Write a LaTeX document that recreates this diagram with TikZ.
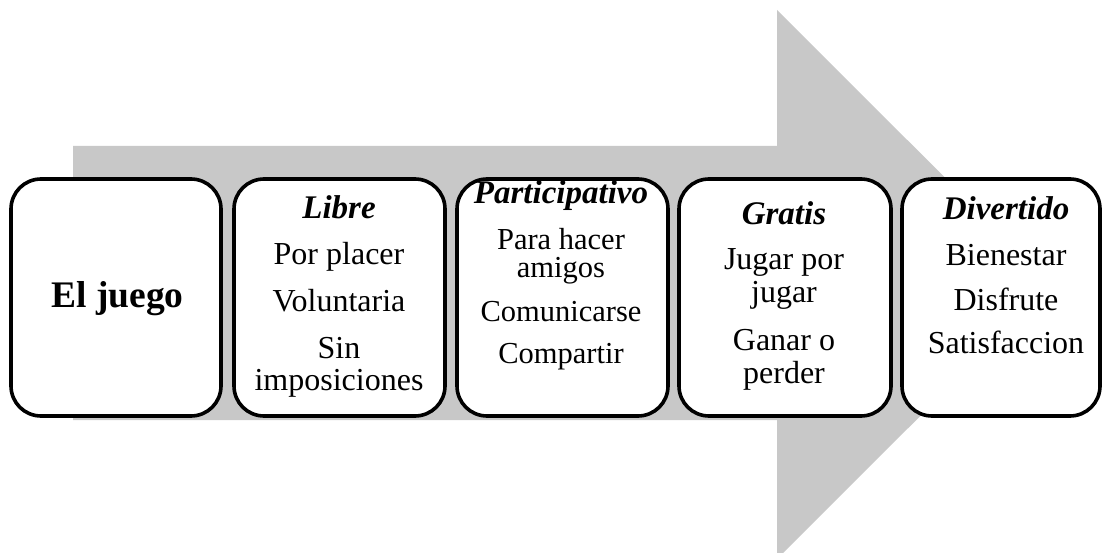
\documentclass[tikz,border=0pt]{standalone}
\usepackage{fontspec}
\setmainfont{Liberation Serif}
\definecolor{arrowgrey}{RGB}{200,200,200}
\tikzset{
  card/.style={draw=black, line width=3.6pt, fill=white, rounded corners=30pt,
    minimum height=237pt, inner sep=0pt},
  txt/.style={inner sep=0pt, anchor=base, font=\fontsize{32}{34}\selectfont},
  smalltxt/.style={inner sep=0pt, anchor=base, font=\fontsize{30.5}{32}\selectfont},
  head/.style={inner sep=0pt, anchor=base, font=\fontsize{33}{35}\selectfont\bfseries\itshape},
  title/.style={inner sep=0pt, anchor=base, font=\fontsize{37.5}{39}\selectfont\bfseries}
}
\begin{document}
\begin{tikzpicture}[x=1pt, y=-1pt]
\useasboundingbox (0,0) rectangle (1103,553);
% big grey arrow
\fill[arrowgrey] (73,146) -- (777,146) -- (777,10) -- (1052,284.5) -- (777,559)
  -- (777,420) -- (73,420) -- cycle;
% cards
\node[card, minimum width=210pt] (b1) at (116,297.5) {};
\node[card, minimum width=211pt] (b2) at (339.5,297.5) {};
\node[card, minimum width=211pt] (b3) at (562.5,297.5) {};
\node[card, minimum width=212pt] (b4) at (785,297.5) {};
\node[card, minimum width=198pt] (b5) at (1001,297.5) {};
% card 1
\node[title] (t1) at (117.5,308) {El juego};
% card 2
\node[head] (t2a) at (339,219) {Libre};
\node[txt] (t2b) at (339,265) {Por placer};
\node[txt] (t2c) at (339,312) {Voluntaria};
\node[txt] (t2d) at (339,358) {Sin};
\node[txt] (t2e) at (339,390) {imposiciones};
% card 3
\node[head] (t3a) at (561,204) {Participativo};
\node[smalltxt] (t3b) at (561,250) {Para hacer};
\node[smalltxt] (t3c) at (561,278) {amigos};
\node[smalltxt] (t3d) at (561,322) {Comunicarse};
\node[smalltxt] (t3e) at (561,363) {Compartir};
% card 4
\node[head] (t4a) at (784,225) {Gratis};
\node[txt] (t4b) at (784,270) {Jugar por};
\node[txt] (t4c) at (784,303) {jugar};
\node[txt] (t4d) at (784,350) {Ganar o};
\node[txt] (t4e) at (784,383) {perder};
% card 5
\node[head] (t5a) at (1006,220) {Divertido};
\node[txt] (t5b) at (1006,266) {Bienestar};
\node[txt] (t5c) at (1006,311) {Disfrute};
\node[txt] (t5d) at (1006,353) {Satisfaccion};
\end{tikzpicture}
\end{document}
